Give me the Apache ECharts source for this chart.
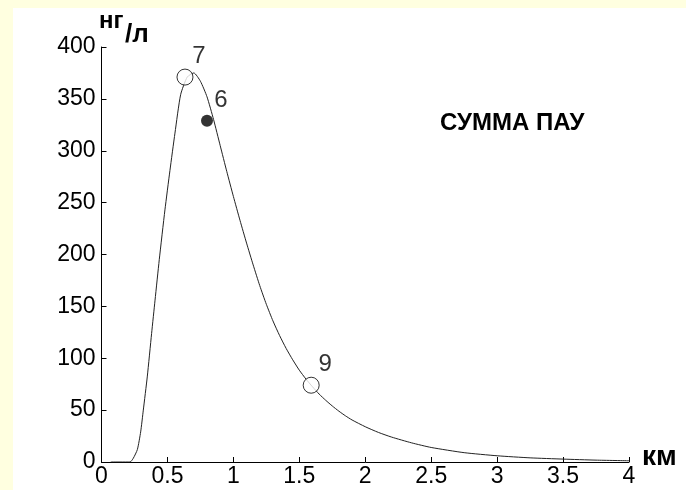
<!DOCTYPE html>
<html>
<head>
<meta charset="utf-8">
<script src="https://cdn.jsdelivr.net/npm/echarts@6/dist/echarts.min.js"></script>
<style>
html,body{margin:0;padding:0;background:#FFFFE0;}
#chart{width:686px;height:490px;}
</style>
</head>
<body>
<div id="chart"></div>
<script>
// curve (distance, km ; concentration, ng/l)
var curveX = [0.07, 0.216, 0.241, 0.272, 0.297, 0.317, 0.347, 0.380, 0.406, 0.438, 0.481, 0.519, 0.557, 0.60, 0.65, 0.70, 0.75, 0.80, 0.85, 0.90, 0.95, 1.00, 1.05, 1.10, 1.15, 1.20, 1.25, 1.30, 1.35, 1.40, 1.45, 1.50, 1.55, 1.60, 1.65, 1.70, 1.75, 1.80, 1.85, 1.90, 2.00, 2.10, 2.20, 2.35, 2.50, 2.75, 3.00, 3.25, 3.50, 3.75, 4.00];
var curveY = [0, 0, 3.6, 12, 29, 50, 82, 124, 156, 195, 243, 281, 317, 354, 371, 375, 367, 352, 330, 305, 280, 256, 233, 211, 190, 170, 152, 136, 122, 109.5, 98.5, 88.5, 80, 72.5, 65.5, 59.5, 54, 49, 44.5, 40.5, 34, 28.5, 24, 18.5, 14, 9, 6, 4, 2.8, 1.8, 1.2];
// open-circle stations
var openNames = ['7', '9'];
var openX = [0.633, 1.59];
var openY = [371, 74];
// filled station
var filledNames = ['6'];
var filledX = [0.80];
var filledY = [329];

var xTicks = ['0', '0.5', '1', '1.5', '2', '2.5', '3', '3.5', '4'];
var yTicks = ['0', '50', '100', '150', '200', '250', '300', '350', '400'];
var titleText = 'СУММА ПАУ';
var yUnitTop = 'нг';
var yUnitBottom = '/л';
var xUnit = 'км';

var font = 'Arial, "Liberation Sans", sans-serif';
function pairs(xs, ys){ return xs.map(function(x,i){ return [x, ys[i]]; }); }
function named(names, xs, ys){ return names.map(function(n,i){ return {name:n, value:[xs[i], ys[i]]}; }); }

var chart = echarts.init(document.getElementById('chart'));
chart.setOption({
  backgroundColor: '#FFFFE0',
  animation: false,
  grid: {left: 101.5, right: 57, top: 47, bottom: 28, containLabel: false},
  xAxis: {
    type: 'value', min: 0, max: 4, interval: 0.5,
    axisLine: {lineStyle: {color: '#000', width: 1}},
    axisTick: {inside: true, length: 5, lineStyle: {color: '#000'}},
    splitLine: {show: false},
    axisLabel: {color: '#000', fontFamily: font, fontSize: 23, margin: 3,
      formatter: function(v){ var i = Math.round(v/0.5); return xTicks[i] !== undefined ? xTicks[i] : ''; }}
  },
  yAxis: {
    type: 'value', min: 0, max: 400, interval: 50,
    axisLine: {show: true, lineStyle: {color: '#000', width: 1}},
    axisTick: {show: true, inside: true, length: 5, lineStyle: {color: '#000'}},
    splitLine: {show: false},
    axisLabel: {color: '#000', fontFamily: font, fontSize: 23, margin: 6,
      formatter: function(v){ var i = Math.round(v/50); return yTicks[i] !== undefined ? yTicks[i] : ''; }}
  },
  graphic: [
    {type: 'rect', z: -10, silent: true, shape: {x: 13, y: 8, width: 673, height: 482}, style: {fill: '#fff'}},
    {type: 'text', x: 440, y: 123, style: {text: titleText, font: 'bold 24px ' + font, fill: '#000', verticalAlign: 'middle'}},
    {type: 'text', x: 99, y: 21, style: {text: yUnitTop, font: 'bold 24px ' + font, fill: '#000', verticalAlign: 'middle'}},
    {type: 'text', x: 125, y: 35, style: {text: yUnitBottom, font: 'bold 26px ' + font, fill: '#000', verticalAlign: 'middle'}},
    {type: 'text', x: 642, y: 457, style: {text: xUnit, font: 'bold 28px ' + font, fill: '#000', verticalAlign: 'middle'}}
  ],
  series: [
    {type: 'line', data: pairs(curveX, curveY), smooth: 0.2, showSymbol: false, symbol: 'none',
      lineStyle: {color: '#222', width: 1}, z: 2},
    {type: 'scatter', data: named(openNames, openX, openY), symbol: 'circle', symbolSize: 16,
      itemStyle: {color: '#fff', borderColor: '#000', borderWidth: 1}, z: 3,
      label: {show: true, position: 'top', distance: 0, offset: [14, 0], formatter: '{b}',
        color: '#000', fontFamily: font, fontSize: 24}},
    {type: 'scatter', data: named(filledNames, filledX, filledY), symbol: 'circle', symbolSize: 12,
      itemStyle: {color: '#000'}, z: 3,
      label: {show: true, position: 'top', distance: 0, offset: [14, -2], formatter: '{b}',
        color: '#000', fontFamily: font, fontSize: 24}}
  ]
});
</script>
</body>
</html>
